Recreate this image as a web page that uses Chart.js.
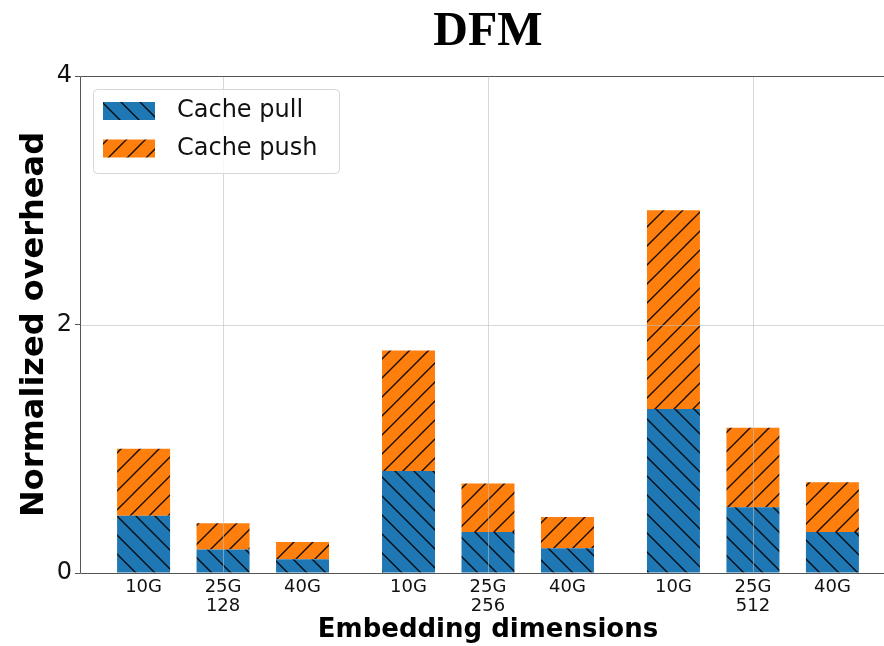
<!DOCTYPE html>
<html>
<head>
<meta charset="utf-8">
<script src="https://cdn.jsdelivr.net/npm/chart.js@4"></script>
<style>
  html, body { margin: 0; padding: 0; background: #fff; overflow: hidden; }
  #wrap { width: 900px; height: 646px; }
</style>
</head>
<body>
<div id="wrap"><canvas id="c" width="900" height="646"></canvas></div>
<script>
// Embedding dimension groups and network bandwidths within each group
const groups = ['128', '256', '512'];
const speeds = ['10G', '25G', '40G'];
// Normalized overhead per bar (group-major order: 128/10G, 128/25G, ... 512/40G)
const cachePull = [0.46, 0.19, 0.11, 0.82, 0.33, 0.20, 1.32, 0.53, 0.33];
const cachePush = [0.54, 0.21, 0.14, 0.97, 0.39, 0.25, 1.60, 0.64, 0.40];
const yTicks = [0, 2, 4];

const BLUE = '#1f77b4';
const ORANGE = '#ff7f0e';
const FONT = 'DejaVu Sans';

// Bars sit at group index + offset, 0.3 apart, 0.2 wide
const offsets = [-0.3, 0, 0.3];
const positions = [];
groups.forEach((g, gi) => offsets.forEach(o => positions.push(+(gi + o).toFixed(2))));

function hatch(color, dir) {
  const s = 19;
  const c = document.createElement('canvas');
  c.width = s; c.height = s;
  const g = c.getContext('2d');
  g.fillStyle = color;
  g.fillRect(0, 0, s, s);
  g.strokeStyle = 'rgba(0,0,0,0.9)';
  g.lineWidth = 1.4;
  g.beginPath();
  for (const k of [-s, 0, s]) {
    if (dir === '/') { g.moveTo(k - 1, s + 1); g.lineTo(k + s + 1, -1); }
    else { g.moveTo(k - 1, -1); g.lineTo(k + s + 1, s + 1); }
  }
  g.stroke();
  return g.createPattern(c, 'repeat');
}

const ctx = document.getElementById('c').getContext('2d');
const pullFill = hatch(BLUE, '\\');
const pushFill = hatch(ORANGE, '/');

// Grid on top of the bars, spines, title and the in-axes legend
const overlay = {
  id: 'overlay',
  afterDatasetsDraw(chart) {
    const { ctx, chartArea: a, scales } = chart;
    ctx.save();
    ctx.lineWidth = 1;
    ctx.strokeStyle = 'rgba(190,190,190,0.6)';
    ctx.beginPath();
    groups.forEach((g, gi) => {
      const x = Math.round(scales.x.getPixelForValue(gi)) + 0.5;
      ctx.moveTo(x, a.top); ctx.lineTo(x, a.bottom);
    });
    yTicks.forEach(v => {
      if (v === 0) return;
      const y = Math.round(scales.y.getPixelForValue(v)) + 0.5;
      ctx.moveTo(a.left, y); ctx.lineTo(a.right, y);
    });
    ctx.stroke();

    // spines
    ctx.strokeStyle = '#555';
    ctx.beginPath();
    const L = Math.round(a.left) + 0.5, T = Math.round(a.top) + 0.5, B = Math.round(a.bottom) + 0.5;
    ctx.moveTo(L, B); ctx.lineTo(L, T); ctx.lineTo(a.right, T);
    ctx.moveTo(L, B); ctx.lineTo(a.right, B);
    ctx.stroke();

    // title
    ctx.fillStyle = '#000';
    ctx.font = 'bold 48px "Liberation Serif"';
    ctx.textAlign = 'center';
    ctx.textBaseline = 'alphabetic';
    ctx.fillText('DFM', (a.left + a.right) / 2, 45);

    // legend
    const bx = a.left + 13, by = a.top + 13, bw = 246, bh = 84;
    ctx.beginPath();
    ctx.roundRect(bx + 0.5, by + 0.5, bw, bh, 4);
    ctx.fillStyle = 'rgba(255,255,255,0.8)';
    ctx.fill();
    ctx.strokeStyle = '#d6d6d6';
    ctx.stroke();
    ctx.font = '24px "' + FONT + '"';
    ctx.textAlign = 'left';
    ctx.textBaseline = 'middle';
    chart.data.datasets.forEach((ds, i) => {
      const py = by + 13 + i * 37.5;
      ctx.fillStyle = ds.backgroundColor;
      ctx.fillRect(bx + 10, py, 52, 18);
      ctx.fillStyle = '#111';
      ctx.fillText(ds.label, bx + 84, py + 9);
    });
    ctx.restore();
  }
};

new Chart(ctx, {
  type: 'bar',
  data: {
    datasets: [
      { label: 'Cache pull', data: positions.map((x, i) => ({ x, y: cachePull[i] })), backgroundColor: pullFill },
      { label: 'Cache push', data: positions.map((x, i) => ({ x, y: cachePush[i] })), backgroundColor: pushFill }
    ]
  },
  options: {
    responsive: false,
    animation: false,
    layout: { padding: { top: 76, right: 4, left: 0, bottom: 0 } },
    datasets: { bar: { barPercentage: 2 / 3, categoryPercentage: 1, borderWidth: 0 } },
    plugins: { legend: { display: false }, tooltip: { enabled: false }, title: { display: false } },
    scales: {
      x: {
        type: 'linear', min: -0.54, max: 2.54, stacked: true, offset: false,
        afterBuildTicks: s => { s.ticks = positions.map(v => ({ value: v })); },
        afterFit: s => { s.height = 73; },
        ticks: {
          autoSkip: false, maxRotation: 0, padding: 4, color: '#111',
          font: { family: FONT, size: 18, lineHeight: 1.1 },
          callback: (v, i) => (i % 3 === 1 ? [speeds[i % 3], groups[Math.floor(i / 3)]] : speeds[i % 3])
        },
        grid: { display: false, drawTicks: false, offset: false },
        border: { display: false },
        title: {
          display: true, text: 'Embedding dimensions', color: '#000',
          font: { family: FONT, size: 26, weight: 'bold', lineHeight: 1.2 },
          padding: { top: 0, bottom: 0 }
        }
      },
      y: {
        min: 0, max: 4, stacked: true,
        afterBuildTicks: s => { s.ticks = yTicks.map(v => ({ value: v })); },
        afterFit: s => { s.width = 80; },
        ticks: { padding: 3, color: '#111', font: { family: FONT, size: 24 } },
        grid: { drawOnChartArea: false, drawTicks: true, tickLength: 5, color: '#555' },
        border: { display: false },
        title: {
          display: true, text: 'Normalized overhead', color: '#000',
          font: { family: FONT, size: 32, weight: 'bold', lineHeight: 1.2 },
          padding: { top: 15, bottom: 0 }
        }
      }
    }
  },
  plugins: [overlay]
});
</script>
</body>
</html>
